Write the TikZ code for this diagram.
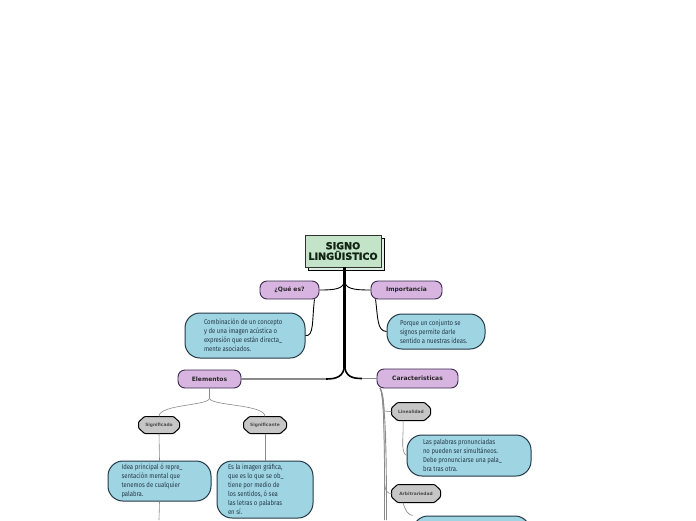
\documentclass[tikz,border=0pt]{standalone}
\usepackage{fontspec}
\setmainfont{DejaVu Sans}
\newfontfamily\cond[FakeStretch=0.85]{Fira Sans}
\newfontfamily\heavy[FakeBold=1.8]{DejaVu Sans}
\usetikzlibrary{shapes.misc}
\definecolor{ttlgreen}{HTML}{C3E4C9}
\definecolor{ttlshadow}{HTML}{DDEFE0}
\definecolor{ttltext}{HTML}{142414}
\definecolor{purp}{HTML}{D8B4E0}
\definecolor{purpline}{HTML}{3A2A50}
\definecolor{bluef}{HTML}{9FD4E2}
\definecolor{blueline}{HTML}{243A48}
\definecolor{hexf}{HTML}{C6C6C6}
\definecolor{gline}{HTML}{8A8A8A}
\tikzset{
  purpbox/.style={draw=purpline, line width=0.9pt, fill=purp, rounded corners=7pt, inner sep=0pt, font=\bfseries\fontsize{6}{6.5}\selectfont, text=black!85},
  bluebox/.style={draw=blueline, line width=1pt, fill=bluef, rounded corners=15pt, inner sep=0pt, font=\cond\fontsize{7}{9}\selectfont, text=blueline, align=left},
  hexbox/.style={inner sep=0pt,
    append after command={
      [rounded corners=1pt] ([xshift=6pt]\tikzlastnode.north west) -- ([xshift=-6pt]\tikzlastnode.north east)
      -- ([yshift=-5.5pt]\tikzlastnode.north east) -- ([yshift=5.5pt]\tikzlastnode.south east)
      -- ([xshift=-6pt]\tikzlastnode.south east) -- ([xshift=6pt]\tikzlastnode.south west)
      -- ([yshift=5.5pt]\tikzlastnode.south west) -- ([yshift=-5.5pt]\tikzlastnode.north west) -- cycle
    }},
  hexdraw/.style={draw=black, line width=1pt, fill=hexf},
  hextext/.style={font=\bfseries\fontsize{4.4}{5}\selectfont, text=black!70},
  grayconn/.style={draw=gline, line width=0.6pt},
  blackconn/.style={draw=black, line width=0.9pt},
}
\begin{document}
\begin{tikzpicture}[x=1pt,y=-1pt]
\useasboundingbox (0,0) rectangle (696,520);
\clip (0,0) rectangle (696,520);
\fill[white] (0,0) rectangle (696,520);

% title
\fill[ttlshadow, draw=black, line width=0.8pt] (308,238) rectangle (384,270);
\node[draw=black!80, line width=1pt, fill=ttlgreen, minimum width=76pt, minimum height=32pt, inner sep=0pt, align=center, text=ttltext, font=\heavy\bfseries\fontsize{9.6}{10.5}\selectfont] (title) at (343,251) {SIGNO\\LINGÜISTICO};

% purple nodes
\node[purpbox, minimum width=59pt, minimum height=18pt] (que) at (289.5,290) {¿Qué es?};
\node[purpbox, minimum width=71pt, minimum height=18pt] (imp) at (406.5,290) {Importancia};
\node[purpbox, minimum width=63pt, minimum height=18pt] (ele) at (209.5,379) {Elementos};
\node[purpbox, minimum width=81pt, minimum height=19pt] (car) at (417.5,378.5) {Caracteristicas};

% blue nodes
\node[bluebox, minimum width=120pt, minimum height=45pt] (comb) at (245,335.5) {\begin{minipage}{82pt}Combinación de un concepto\\y de una imagen acústica o\\expresión que están directa\_\\mente asociados.\end{minipage}};
\node[bluebox, minimum width=98pt, minimum height=35pt] (porq) at (436,331.5) {\begin{minipage}{72pt}Porque un conjunto se\\signos permite darle\\sentido a nuestras ideas.\end{minipage}};
\node[bluebox, minimum width=124pt, minimum height=41pt] (pal) at (469,455.5) {\begin{minipage}{92pt}Las palabras pronunciadas\\no pueden ser simultáneos.\\Debe pronunciarse una pala\_\\bra tras otra.\end{minipage}};
\node[bluebox, minimum width=103pt, minimum height=40pt] (idea) at (159.5,481) {\begin{minipage}{76pt}Idea principal ó repre\_\\sentación mental que\\tenemos de cualquier\\palabra.\end{minipage}};
\node[bluebox, minimum width=96pt, minimum height=57pt] (esla) at (265,489.5) {\begin{minipage}{74pt}Es la imagen gráfica,\\que es lo que se ob\_\\tiene por medio de\\los sentidos, ó sea\\las letras o palabras\\en sí.\end{minipage}};
\node[bluebox, minimum width=117pt, minimum height=48pt] (next) at (471.5,540) {};

% gray hex nodes
\path[hexdraw] node[hexbox, minimum width=40pt, minimum height=16pt] (sdo) at (159,425) {};
\path[hexdraw] node[hexbox, minimum width=42pt, minimum height=16pt] (ste) at (265,425) {};
\path[hexdraw] node[hexbox, minimum width=38pt, minimum height=17pt] (lin) at (411,411.5) {};
\path[hexdraw] node[hexbox, minimum width=48pt, minimum height=17pt] (arb) at (416,493.5) {};
\node[hextext] (sdot) at (sdo.center) {Significado};
\node[hextext] (stet) at (ste.center) {Significante};
\node[hextext] (lint) at (lin.center) {Linealidad};
\node[hextext] (arbt) at (arb.center) {Arbitrariedad};

% trunk
\coordinate (tb) at (344.5,267);
\draw[black, line width=3pt] (tb) -- (344.5,368);
\draw[blackconn] (344.5,280) .. controls (344.5,289) and (335,290) .. (que.east);
\draw[blackconn] (344.5,280) .. controls (344.5,289) and (354,290) .. (imp.west);
\draw[black, line width=1.6pt] (344.5,364) .. controls (344.5,377) and (336,379) .. (326,379);
\draw[black, line width=1.6pt] (344.5,364) .. controls (344.5,377) and (353,378.5) .. (362,378.5);
\draw[gline, line width=1.2pt] (326,379) -- (ele.east);
\draw[gline, line width=1.2pt] (362,378.5) -- (car.west);

% que -> comb, imp -> porq
\draw[blackconn] ([xshift=-5pt]que.south east) .. controls (312,320) and (314,337) .. (comb.east);
\draw[blackconn] ([xshift=5pt]imp.south west) .. controls (378,318) and (377,331) .. (porq.west);

% elementos
\coordinate (eb) at (209.5,398);
\draw[grayconn] (ele.south) -- (eb);
\draw[grayconn] (eb) .. controls (209.5,406) and (159,404) .. (sdo.north);
\draw[grayconn] (eb) .. controls (209.5,406) and (265,404) .. (ste.north);
\draw[grayconn] (sdo.south) -- (idea.north);
\draw[grayconn] (ste.south) -- (esla.north);
\coordinate (ib) at (159,520);
\draw[grayconn] (idea.south) -- (ib);

% caracteristicas
\coordinate (cs) at (380,388);
\coordinate (cb1) at (384.5,520);
\coordinate (cb2) at (386.5,520);
\draw[grayconn] (cs) .. controls (383,392) and (384,402) .. (384,411) .. controls (384,411) and (388,411.5) .. (lin.west);
\draw[grayconn] (cs) .. controls (383,394) and (384.5,420) .. (384.5,480) .. controls (384.5,492) and (388,493.5) .. (arb.west);
\draw[grayconn] (cs) .. controls (384,395) and (384.5,440) .. (cb1);
\draw[gline, line width=0.9pt] (cs) .. controls (385,396) and (386.5,440) .. (cb2);
\draw[grayconn] ([xshift=-8pt]lin.south) .. controls (404,435) and (400,452) .. (pal.west);
\draw[grayconn] ([xshift=-13pt]arb.south) .. controls (405,510) and (408,515) .. (next.north west);
\end{tikzpicture}
\end{document}
